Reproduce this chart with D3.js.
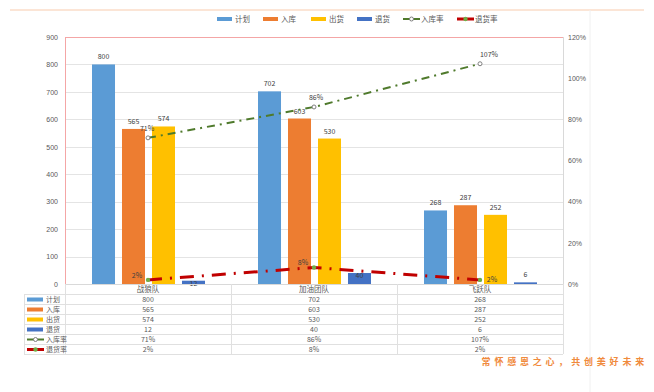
<!DOCTYPE html>
<html><head><meta charset="utf-8">
<script src="https://cdn.jsdelivr.net/npm/d3@7"></script>
<style>body{margin:0;background:#fff;}svg{display:block;font-family:"Noto Sans CJK SC","Noto Sans",sans-serif;}</style>
</head><body>
<svg id="c" width="654" height="392"></svg>
<script>
const categories = ["战狼队", "加油团队", "飞跃队"];
const barSeries = ["计划", "入库", "出货", "退货"];
const plan = [800, 702, 268];
const inbound = [565, 603, 287];
const shipped = [574, 530, 252];
const returned = [12, 40, 6];
const inRate = [0.71, 0.86, 1.07];
const retRate = [0.02, 0.08, 0.02];
const leftTicks = [0,100,200,300,400,500,600,700,800,900];
const rightTicks = [0,0.2,0.4,0.6,0.8,1.0,1.2];
const barColors = ["#5b9bd5", "#ed7d31", "#ffc000", "#4472c4"];
const barValues = [plan, inbound, shipped, returned];

const svg = d3.select("#c");
const L = 65, R = 563, T = 37, B = 284;
const x0 = d3.scaleBand().domain(categories).range([L, R]);
const x1 = d3.scaleBand().domain(barSeries).range([-56, 57]).paddingInner(0.233).paddingOuter(0);
const y = d3.scaleLinear().domain([0, 900]).range([B, T]);
const y2 = d3.scaleLinear().domain([0, 1.2]).range([B, T]);
const cx = c => x0(c) + x0.bandwidth() / 2;

// decorations
svg.append("line").attr("x1", 10).attr("x2", 644).attr("y1", 10).attr("y2", 10).attr("stroke", "#f8cbad").attr("stroke-width", 1);
svg.append("line").attr("x1", 590).attr("x2", 590).attr("y1", 10).attr("y2", 392).attr("stroke", "#f0f0f0").attr("stroke-width", 1);

// gridlines
svg.append("g").selectAll("line").data(leftTicks.slice(1, -1)).join("line")
  .attr("x1", L).attr("x2", R).attr("y1", d => Math.round(y(d)) + 0.5).attr("y2", d => Math.round(y(d)) + 0.5)
  .attr("stroke", "#e4e4e4");

// left axis
const ga = svg.append("g").attr("transform", `translate(${L},0)`)
  .call(d3.axisLeft(y).tickValues(leftTicks).tickSize(0).tickPadding(7));
ga.select(".domain").remove();
ga.selectAll("text").attr("font-size", 7).attr("fill", "#595959");
// right axis
const gb = svg.append("g").attr("transform", `translate(${R},0)`)
  .call(d3.axisRight(y2).tickValues(rightTicks).tickFormat(d3.format(".0%")).tickSize(0).tickPadding(5));
gb.select(".domain").remove();
gb.selectAll("text").attr("font-size", 7).attr("fill", "#595959");

// plot border
svg.append("line").attr("x1", L).attr("x2", R).attr("y1", T + 0.5).attr("y2", T + 0.5).attr("stroke", "#f4a6a6");
svg.append("line").attr("x1", L + 0.5).attr("x2", L + 0.5).attr("y1", T).attr("y2", B).attr("stroke", "#f4a6a6");
svg.append("line").attr("x1", R + 0.5).attr("x2", R + 0.5).attr("y1", T).attr("y2", B).attr("stroke", "#d9d9d9");

// bars
barSeries.forEach((s, i) => {
  const g = svg.append("g");
  g.selectAll("rect").data(categories).join("rect")
    .attr("x", c => cx(c) + x1(s)).attr("width", x1.bandwidth())
    .attr("y", (c, j) => y(barValues[i][j])).attr("height", (c, j) => B - y(barValues[i][j]))
    .attr("fill", barColors[i]);
  g.selectAll("text").data(categories).join("text")
    .attr("x", c => cx(c) + x1(s) + x1.bandwidth() / 2)
    .attr("y", (c, j) => {
      const v = barValues[i][j];
      return (i === 3 && j < 2) ? y(v) + 5 : y(v) - 5;
    })
    .attr("text-anchor", "middle").attr("font-size", 7).attr("fill", "#404040")
    .text((c, j) => barValues[i][j]);
});

// bottom axis line
svg.append("line").attr("x1", L).attr("x2", R).attr("y1", B + 0.5).attr("y2", B + 0.5).attr("stroke", "#d9d9d9");

// lines
const line1 = d3.line().x((d, i) => cx(categories[i])).y(d => y2(d));
svg.append("path").datum(inRate).attr("d", line1).attr("fill", "none")
  .attr("stroke", "#4f7a2c").attr("stroke-width", 2).attr("stroke-dasharray", "8,5,2,5");
svg.append("g").selectAll("circle").data(inRate).join("circle")
  .attr("cx", (d, i) => cx(categories[i])).attr("cy", d => y2(d)).attr("r", 2)
  .attr("fill", "#ffffff").attr("stroke", "#7f7f7f").attr("stroke-width", 1);
svg.append("path").datum(retRate).attr("d", line1).attr("fill", "none")
  .attr("stroke", "#c00000").attr("stroke-width", 3).attr("stroke-dasharray", "14,8,2,8");
svg.append("g").selectAll("circle").data(retRate).join("circle")
  .attr("cx", (d, i) => cx(categories[i])).attr("cy", d => y2(d)).attr("r", 2.2)
  .attr("fill", "#70ad47");

// line labels
const fmt = d3.format(".0%");
svg.append("g").selectAll("text").data(inRate).join("text")
  .attr("x", (d, i) => cx(categories[i]) + [-1, 2, 9][i]).attr("y", d => y2(d) - 7)
  .attr("text-anchor", "middle").attr("font-size", 7).attr("fill", "#404040").text(fmt);
svg.append("g").selectAll("text").data(retRate).join("text")
  .attr("x", (d, i) => cx(categories[i]) + [-11, -11, 12][i]).attr("y", (d, i) => y2(d) + [-2, -3, 2][i])
  .attr("text-anchor", "middle").attr("font-size", 7).attr("fill", "#404040").text(fmt);

// legend
const legendItems = [
  {n: "计划", type: "bar", c: barColors[0], x: 217},
  {n: "入库", type: "bar", c: barColors[1], x: 263},
  {n: "出货", type: "bar", c: barColors[2], x: 311},
  {n: "退货", type: "bar", c: barColors[3], x: 357},
  {n: "入库率", type: "l1", x: 403},
  {n: "退货率", type: "l2", x: 457}
];
const lg = svg.append("g");
legendItems.forEach(it => {
  if (it.type === "bar") {
    lg.append("rect").attr("x", it.x).attr("y", 17).attr("width", 15).attr("height", 4).attr("fill", it.c);
  } else if (it.type === "l1") {
    lg.append("line").attr("x1", it.x).attr("x2", it.x + 17).attr("y1", 19).attr("y2", 19).attr("stroke", "#4f7a2c").attr("stroke-width", 2);
    lg.append("circle").attr("cx", it.x + 8.5).attr("cy", 19).attr("r", 2).attr("fill", "#fff").attr("stroke", "#7f7f7f");
  } else {
    lg.append("line").attr("x1", it.x).attr("x2", it.x + 17).attr("y1", 19).attr("y2", 19).attr("stroke", "#c00000").attr("stroke-width", 3);
    lg.append("circle").attr("cx", it.x + 8.5).attr("cy", 19).attr("r", 2.2).attr("fill", "#70ad47");
  }
  lg.append("text").attr("x", it.x + 18).attr("y", 22).attr("font-size", 7.5).attr("fill", "#595959").text(it.n);
});

// data table
const TL = 24, rowH = 10, top0 = 284;
const rows = [
  {n: "计划", type: "bar", c: barColors[0], v: plan.map(String)},
  {n: "入库", type: "bar", c: barColors[1], v: inbound.map(String)},
  {n: "出货", type: "bar", c: barColors[2], v: shipped.map(String)},
  {n: "退货", type: "bar", c: barColors[3], v: returned.map(String)},
  {n: "入库率", type: "l1", v: inRate.map(fmt)},
  {n: "退货率", type: "l2", v: retRate.map(fmt)}
];
const tg = svg.append("g");
const gridC = "#e0e0e0";
categories.forEach(c => {
  tg.append("text").attr("x", cx(c)).attr("y", top0 + 8).attr("text-anchor", "middle")
    .attr("font-size", 7.5).attr("fill", "#595959").text(c);
});
for (let r = 0; r <= rows.length; r++) {
  const yy = top0 + rowH + r * rowH + 0.5;
  tg.append("line").attr("x1", TL).attr("x2", R).attr("y1", yy).attr("y2", yy).attr("stroke", gridC);
}
const vx = [TL, L, x0(categories[1]), x0(categories[2]), R];
vx.forEach((xx, i) => {
  tg.append("line").attr("x1", xx + 0.5).attr("x2", xx + 0.5)
    .attr("y1", i === 0 ? top0 + rowH : top0).attr("y2", top0 + rowH * 7).attr("stroke", gridC);
});
rows.forEach((r, i) => {
  const yc = top0 + rowH * (i + 1) + rowH / 2 + 0.5;
  if (r.type === "bar") {
    tg.append("rect").attr("x", 27).attr("y", yc - 2).attr("width", 16).attr("height", 4).attr("fill", r.c);
  } else if (r.type === "l1") {
    tg.append("line").attr("x1", 27).attr("x2", 44).attr("y1", yc).attr("y2", yc).attr("stroke", "#4f7a2c").attr("stroke-width", 2);
    tg.append("circle").attr("cx", 35.5).attr("cy", yc).attr("r", 2).attr("fill", "#fff").attr("stroke", "#7f7f7f");
  } else {
    tg.append("line").attr("x1", 27).attr("x2", 44).attr("y1", yc).attr("y2", yc).attr("stroke", "#c00000").attr("stroke-width", 3);
    tg.append("circle").attr("cx", 35.5).attr("cy", yc).attr("r", 2.2).attr("fill", "#70ad47");
  }
  tg.append("text").attr("x", 46).attr("y", yc + 2.5).attr("font-size", 7).attr("fill", "#595959").text(r.n);
  categories.forEach((c, j) => {
    tg.append("text").attr("x", cx(c)).attr("y", yc + 2.5).attr("text-anchor", "middle")
      .attr("font-size", 7).attr("fill", "#595959").text(r.v[j]);
  });
});

// slogan
svg.append("text").attr("x", 648).attr("y", 365).attr("text-anchor", "end")
  .attr("font-size", 9).attr("font-weight", "bold").attr("letter-spacing", 3.8)
  .attr("fill", "#f08a3c").text("常怀感恩之心，共创美好未来");
</script>
</body></html>
